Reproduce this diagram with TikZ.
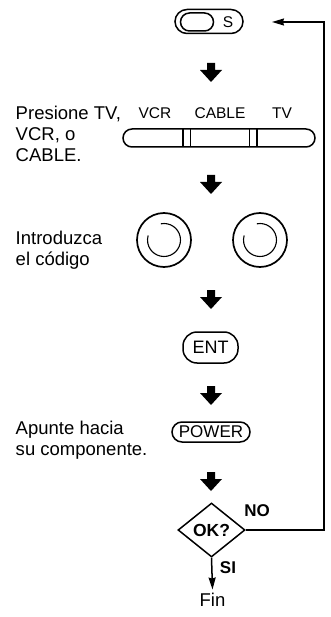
\documentclass[tikz,border=0pt]{standalone}
\usepackage{fontspec}
\setmainfont{Liberation Sans}
\usetikzlibrary{shapes.geometric,arrows.meta}

\tikzset{
  steptext/.style={anchor=west,align=left,inner sep=0pt,font=\fontsize{18.5}{21}\selectfont},
  keytext/.style={inner sep=0pt,font=\fontsize{15.5}{18}\selectfont},
  pill/.style={draw,rounded corners=#1,inner sep=0pt},
  tip/.style={-{Stealth[length=12pt,width=7pt,inset=1pt]}},
  blkarrow/.pic={\fill (-4,0) -- (4,0) -- (4,7) -- (11,7) -- (0,19) -- (-11,7) -- (-4,7) -- cycle;}
}

\begin{document}
\begin{tikzpicture}[x=1pt,y=-1pt,line width=1.5pt]
\useasboundingbox (0,0) rectangle (330,617);
% start key
\node[pill=12,minimum width=68,minimum height=24] (sbtn) at (209,21.5) {};
\node[pill=9,minimum width=33,minimum height=18] (sknob) at (197,22) {};
\node[keytext] (slbl) at (228,22) {S};
\pic at (211,63) {blkarrow};
% step 1
\node[steptext] (t1) at (15,133.5) {Presione TV,\\VCR, o\\CABLE.};
\node[keytext] (vcr) at (155,113) {VCR};\node[keytext] (cable) at (220,113) {CABLE};\node[keytext] (tv) at (282,113) {TV};
\node[pill=9,minimum width=192,minimum height=18] (bar) at (219,138) {};
\draw[line width=1.2pt] (183,129) -- (183,147);\draw[line width=1.2pt] (190.5,129) -- (190.5,147);
\draw[line width=1.2pt] (249.5,129) -- (249.5,147);\draw[line width=1.2pt] (257,129) -- (257,147);
\pic at (211,175) {blkarrow};
% step 2
\node[steptext] (t2) at (15,250) {Introduzca\\el código};
\node[circle,draw,line width=1.7pt,minimum size=54,inner sep=0pt] (dial1) at (164,240) {};
\node[circle,draw,line width=1.7pt,minimum size=54,inner sep=0pt] (dial2) at (260,240) {};
\draw[line width=1.1pt] (dial1.center) ++(259:16.5) arc[start angle=259,end angle=556,radius=16.5];
\draw[line width=1.1pt] (dial2.center) ++(259:16.5) arc[start angle=259,end angle=556,radius=16.5];
\pic at (211,290) {blkarrow};
% step 3
\node[draw,rounded corners=14,minimum width=55,minimum height=31,inner sep=0pt,font=\fontsize{18}{18}\selectfont] (ent) at (210.5,347.5) {ENT};
\pic at (211,386) {blkarrow};
% step 4
\node[steptext] (t3) at (15,440) {Apunte hacia\\su componente.};
\node[pill=10,minimum width=78,minimum height=20,font=\fontsize{17}{17}\selectfont] (power) at (211,432) {POWER};
\pic at (211,472) {blkarrow};
% test
\node[diamond,draw,minimum width=67,minimum height=54,inner sep=0pt,font=\bfseries\fontsize{17.5}{17.5}\selectfont] (ok) at (211.5,530) {OK?};
\node[font=\bfseries\fontsize{17}{17}\selectfont,inner sep=0pt] (no) at (257,511) {NO};
\node[font=\bfseries\fontsize{17}{17}\selectfont,inner sep=0pt] (si) at (228,568) {SI};
\node[font=\fontsize{18.5}{18.5}\selectfont,inner sep=3pt] (fin) at (212.5,600) {Fin};
\draw[tip] (ok.south) -- (fin.north);
\coordinate (loop) at (324,22);\coordinate (back) at (272,22);
\draw[tip] (ok.east) -| (loop) -- (back);
\end{tikzpicture}
\end{document}
